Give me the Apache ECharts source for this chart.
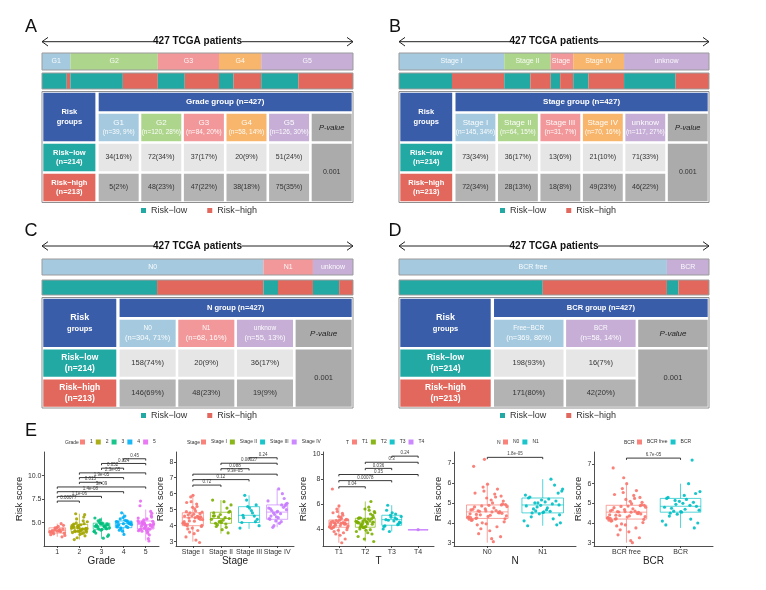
<!DOCTYPE html>
<html><head><meta charset="utf-8">
<script src="https://cdn.jsdelivr.net/npm/echarts@6/dist/echarts.min.js"></script>
<style>html,body{margin:0;padding:0;background:#fff}#main{width:766px;height:590px}</style>
</head><body><div id="main"></div>
<script>
// ================= DATA =================
const gradeCats = ['G1','G2','G3','G4','G5'];
const gradeLow  = [34,72,37,20,51];
const gradeHigh = [5,48,47,38,75];
const gradeP = '0.001';

const stageCats = ['Stage I','Stage II','Stage III','Stage IV','unknow'];
const stageLow  = [73,36,13,21,71];
const stageHigh = [72,28,18,49,46];
const stageP = '0.001';

const nCats = ['N0','N1','unknow'];
const nLow  = [158,20,36];
const nHigh = [146,48,19];
const nP = '0.001';

const bcrBarCats   = ['BCR free','BCR'];
const bcrTableCats = ['Free−BCR','BCR'];
const bcrLow  = [198,16];
const bcrHigh = [171,42];
const bcrP = '0.001';

// ---- panel E: risk score by group ----
const gradeNames = ['1','2','3','4','5'];
const gradeBox = [[3.5,3.9,4.15,4.45,4.9],[3.2,4.05,4.4,4.82,5.95],[3.3,4.3,4.65,4.95,5.55],[3.75,4.47,4.9,5.18,6.05],[3.1,4.33,4.8,5.18,6.4]];
const gradePts = [
 [4.12,3.95,4.31,4.48,3.72,4.05,4.2,3.88,4.6,4.15,3.5,4.38,4.02,4.26,3.82,4.72,4.1,3.98,4.9,4.44,3.65,4.18],
 [4.4,4.12,4.85,3.9,4.6,5.1,4.25,4.05,3.6,4.5,4.72,4.33,5.4,4.0,4.18,3.2,4.9,4.45,4.62,3.85,5.95,4.28,4.08,4.55,5.2,3.4,4.38,4.78,4.15,5.85,4.68,3.95,4.3,4.98,4.22,3.75,4.52,5.6,4.1,4.42],
 [4.65,4.35,4.9,4.1,4.55,5.2,4.78,4.28,3.9,4.7,5.05,4.45,3.35,4.62,4.88,4.2,5.5,4.58,4.32,3.7,4.95,4.75,4.4,5.3,4.05,4.68,4.5,3.55,4.85,4.6],
 [4.9,4.55,5.2,4.35,5.0,5.7,4.75,4.95,4.1,5.12,4.62,5.4,4.85,3.75,5.05,4.5,6.05,4.8,5.25,4.2,4.98,5.55,4.68,5.15,4.45],
 [4.8,4.4,5.2,4.05,4.95,5.6,4.6,4.25,3.7,5.05,4.75,5.4,4.35,6.2,4.88,4.15,3.3,5.1,4.52,4.7,6.8,4.3,5.3,4.9,3.9,4.62,5.75,4.45,5.0,3.05,4.82,5.15,4.2,7.3,4.68,4.98,5.5,4.38,4.1,6.0]
];
const gradePairs = [[0,1],[0,2],[0,3],[0,4],[1,2],[1,3],[1,4],[2,3],[2,4],[3,4]];
const gradePLabels = ['0.00077','1.1e-06','1.4e-08','3e-09','0.015','1.9e-05','2.3e-05','0.052','0.024','0.45'];

const stageNames = ['Stage I','Stage II','Stage III','Stage IV'];
const stageBox = [[3.0,4.0,4.5,4.81,5.95],[3.5,4.15,4.45,4.84,5.6],[3.8,4.2,4.65,5.19,5.9],[3.9,4.4,4.85,5.3,6.3]];
const stagePts = [
 [4.5,4.1,4.75,3.85,4.6,5.2,4.3,4.02,3.5,4.88,4.45,5.5,4.2,3.1,4.68,4.55,5.9,4.12,3.7,4.8,4.38,5.05,4.0,2.95,4.62,4.25,5.35,4.48,3.95,4.72,3.3,4.55,5.8,4.15,4.92,3.8,4.4,5.15,4.06,4.58,3.6,4.85,4.28,5.45,4.52],
 [4.45,4.2,4.8,3.9,4.55,5.3,4.35,4.15,3.55,4.7,5.6,4.5,4.05,4.9,3.75,4.62,5.1,4.25,4.4,5.5,3.95,4.84,4.3,4.6,4.1],
 [4.65,4.25,5.2,3.85,4.8,5.9,4.4,5.1,4.2,4.6,5.6,4.0,4.95,4.5,5.3],
 [4.85,4.45,5.3,4.0,5.0,6.3,4.6,5.15,4.3,5.55,4.75,3.9,5.25,4.9,4.4,6.0,4.7,5.4,4.15,4.95,5.7,4.55,5.1,4.25,4.8,5.35,4.5,5.05]
];
const stagePairs = [[0,1],[0,2],[0,3],[1,2],[1,3],[2,3]];
const stagePLabels = ['0.72','0.12','9.3e-05','0.088','0.00027','0.24'];

const tNames = ['T1','T2','T3','T4'];
const tBox = [[2.9,4.14,4.45,4.72,5.9],[3.0,4.14,4.55,4.86,6.2],[3.8,4.3,4.75,5.1,5.9],[3.95,3.95,3.95,3.95,3.95]];
const tPts = [
 [4.45,4.2,4.7,3.9,4.55,5.1,4.3,4.1,3.5,4.62,4.38,5.4,4.15,2.9,4.5,4.78,5.85,4.05,3.7,4.68,4.25,4.95,4.12,3.2,4.58,4.35,5.25,4.42,3.95,4.7,7.2,4.48,5.6,4.18,4.85,3.8,4.4,5.0,4.08,4.52,3.6,4.74,4.28,5.3,4.46],
 [4.55,4.2,4.85,3.95,4.65,5.3,4.4,4.15,3.6,4.75,4.5,5.5,4.25,3.0,4.6,4.9,6.2,4.1,3.8,4.8,4.35,5.1,4.18,3.4,4.68,4.45,5.4,4.52,4.0,4.82,3.2,4.58,5.75,4.3,4.95,3.9,4.48,5.2,4.12,4.62,3.7,4.88,4.38,5.6,4.56],
 [4.75,4.35,5.1,4.0,4.9,5.9,4.55,5.3,4.25,4.8,3.8,5.0,4.65,5.5,4.4,4.95,4.2,5.2,4.7,4.5],
 [3.95]
];
const tPairs = [[0,1],[0,2],[0,3],[1,2],[1,3],[2,3]];
const tPLabels = ['0.04','0.00078','0.35','0.036','0.3','0.24'];

const nNames = ['N0','N1'];
const nBox = [[3.0,4.22,4.55,4.9,5.95],[3.85,4.5,4.9,5.25,6.2]];
const nPts = [
 [4.55,4.25,4.9,3.95,4.65,5.3,4.4,4.2,3.6,4.8,4.5,5.6,4.3,3.05,4.6,4.95,5.95,4.15,3.8,4.85,4.35,5.15,4.22,3.3,4.7,4.45,5.45,4.58,4.05,4.88,6.85,4.52,5.8,4.28,5.0,3.9,4.48,5.25,4.12,4.62,3.7,4.92,4.38,5.5,4.56,7.2,4.18,4.75,3.45,5.1,4.32,4.68,5.7,4.0,4.82,3.2,4.42,5.35,4.6,4.26],
 [4.9,4.55,5.25,4.2,5.0,5.7,4.75,4.5,3.9,5.15,4.85,6.2,4.6,4.0,5.05,5.3,5.9,4.45,4.1,5.2,4.7,5.5,4.52,3.85,4.95,4.8,5.6,4.65,4.3,5.1,4.88,5.4,4.58,5.0,4.4]
];
const nPairs = [[0,1]];
const nPLabels = ['1.8e-05'];

const bcrNames = ['BCR free','BCR'];
const bcrBox = [[3.0,4.2,4.55,4.9,5.95],[3.75,4.55,4.85,5.25,6.0]];
const bcrPts = [
 [4.55,4.22,4.88,3.9,4.62,5.25,4.38,4.18,3.55,4.78,4.48,5.55,4.28,3.0,4.58,4.92,6.0,4.12,3.75,4.84,4.32,5.1,4.2,3.25,4.68,4.42,5.4,4.56,4.02,4.86,6.8,4.5,5.75,4.26,4.98,3.85,4.46,5.2,4.1,4.6,3.65,4.9,4.36,5.45,4.54,6.3,4.15,4.72,3.4,5.05,4.3,4.66,5.65,3.95,4.8,3.1,4.4,5.3,4.58,4.24],
 [4.85,4.55,5.25,4.2,4.95,5.6,4.7,4.5,3.75,5.1,4.8,6.0,4.6,4.0,5.0,5.3,7.2,4.45,4.1,5.2,4.75,5.5,4.58,3.9,4.9,5.15,4.65,5.4,4.35,5.05]
];
const bcrPairs = [[0,1]];
const bcrPLabels = ['6.7e-05'];

// ================= STYLE / LAYOUT =================
const FONT = '"Liberation Sans", Arial, Helvetica, sans-serif';
const BLUE='#3A5DA9', TEAL='#23A9A4', RED='#E2685D', LGREY='#E6E6E6', DGREY='#B3B3B3', PGREY='#ABABAB';
const LB='#A5CADF', GRN='#ADD58C', PNK='#F2989A', ORG='#F7B66B', PUR='#C6AED6';
const LOW_NAME='Risk−low', HIGH_NAME='Risk−high';
const hue5=['#F8766D','#A3A500','#00BF7D','#00B0F6','#E76BF3'];
const hue4=['#F8766D','#7CAE00','#00BFC4','#C77CFF'];
const hue2=['#F8766D','#00BFC4'];

const option = {animation:false, backgroundColor:'#fff', grid:[], xAxis:[], yAxis:[], series:[], legend:[], graphic:[]};
const sum = a => a.reduce((s,v)=>s+v,0);
const pct = (v,t) => Math.round(v/t*100);

function addPanel(cfg){
  const tot = cfg.low.map((v,i)=>v+cfg.high[i]);
  const total = sum(tot), nL = sum(cfg.low), nH = sum(cfg.high);
  // arrow + title
  const y = cfg.arrowY, x0 = cfg.x, x1 = cfg.x + cfg.w, cx = (x0+x1)/2, hw = 44;
  const ln = {stroke:'#222', lineWidth:1, fill:null};
  option.graphic.push(
    {type:'line', shape:{x1:x0, y1:y, x2:cx-hw, y2:y}, style:ln},
    {type:'line', shape:{x1:cx+hw, y1:y, x2:x1, y2:y}, style:ln},
    {type:'polyline', shape:{points:[[x0+6,y-4.3],[x0,y],[x0+6,y+4.3]]}, style:ln},
    {type:'polyline', shape:{points:[[x1-6,y-4.3],[x1,y],[x1-6,y+4.3]]}, style:ln},
    {type:'text', x:cx, y:y, style:{text: total + ' TCGA patients', fontSize:10, fontWeight:'bold', fontFamily:FONT, fill:'#111', align:'center', verticalAlign:'middle'}}
  );
  // group bar
  let gi = option.grid.length;
  option.grid.push({left:cfg.x, top:cfg.barTop, width:cfg.w, height:cfg.barH, show:true, borderColor:'#9b9b9b', borderWidth:1, backgroundColor:'transparent', z:10});
  option.xAxis.push({type:'value', gridIndex:gi, min:0, max:total, show:false});
  option.yAxis.push({type:'category', gridIndex:gi, data:['group'], show:false});
  cfg.barLabels.forEach((c,j)=>{
    option.series.push({type:'bar', xAxisIndex:gi, yAxisIndex:gi, stack:'grp'+gi, barWidth:'100%', data:[tot[j]], silent:true,
      itemStyle:{color:cfg.colors[j]},
      label:{show:true, position:'inside', formatter:c, color:'rgba(255,255,255,0.92)', fontSize:7, fontFamily:FONT,
             width:Math.max(8, tot[j]/total*cfg.w - 1), overflow:'truncate', ellipsis:''}});
  });
  // risk bar
  gi = option.grid.length;
  option.grid.push({left:cfg.x, top:cfg.riskTop, width:cfg.w, height:cfg.riskH, show:true, borderColor:'#9b9b9b', borderWidth:1, backgroundColor:'transparent', z:10});
  option.xAxis.push({type:'value', gridIndex:gi, min:0, max:total, show:false});
  option.yAxis.push({type:'category', gridIndex:gi, data:['risk'], show:false});
  cfg.low.forEach((v,j)=>{
    [[v,LOW_NAME,TEAL],[cfg.high[j],HIGH_NAME,RED]].forEach(([val,nm,col])=>{
      option.series.push({type:'bar', name:nm, xAxisIndex:gi, yAxisIndex:gi, stack:'risk'+gi, barWidth:'100%', data:[val], silent:true, itemStyle:{color:col}});
    });
  });
  option.legend.push({data:[LOW_NAME,HIGH_NAME], left:cfg.legendLeft, top:cfg.legendTop, padding:0, icon:'rect', itemWidth:5, itemHeight:5, itemGap:20, selectedMode:false,
    textStyle:{fontSize:9, color:'#333', fontFamily:FONT}});
  // table
  gi = option.grid.length;
  const n = cfg.cats.length, L = 1.3, W = L + n + 1, R = [0,0.7,1.7,2.7,3.7];
  option.grid.push({left:cfg.x, top:cfg.tableTop, width:cfg.w, height:cfg.tableH, show:true, borderColor:'#8f8f8f', borderWidth:1, backgroundColor:'transparent', z:10});
  option.xAxis.push({type:'value', gridIndex:gi, min:0, max:W, show:false});
  option.yAxis.push({type:'value', gridIndex:gi, min:0, max:R[4], inverse:true, show:false});
  const big = cfg.big;
  const wt = (fs, fill, bold, italic) => ({fontSize:fs, fill:fill, fontWeight:bold?'bold':'normal', fontStyle:italic?'italic':'normal', fontFamily:FONT, lineHeight:fs*1.3});
  const cells = [];
  cells.push({x0:0,x1:L,y0:0,y1:R[2],fill:BLUE,insR:2, text:'{a|Risk}\n{b|groups}', rich:{a:wt(big?9:7.5,'#fff',true), b:wt(7.5,'#fff',true)}});
  cells.push({x0:L,x1:W,y0:0,y1:R[1],fill:BLUE, text:'{a|'+cfg.title+' (n='+total+')}', rich:{a:wt(big?7.5:8,'#fff',true)}});
  cfg.cats.forEach((c,j)=>{
    cells.push({x0:L+j,x1:L+j+1,y0:R[1],y1:R[2],fill:cfg.colors[j], text:'{a|'+c+'}\n{b|(n='+tot[j]+', '+pct(tot[j],total)+'%)}',
      rich:{a:wt(big?6.5:8,'rgba(255,255,255,0.95)',false), b:wt(big?7.5:6.5,'rgba(255,255,255,0.95)',false)}});
  });
  cells.push({x0:L+n,x1:W,y0:R[1],y1:R[2],fill:PGREY, text:'{a|P}{b|-value}', rich:{a:wt(big?8:7.5,'#222',false,true), b:wt(big?8:7.5,'#222',false,true)}});
  cells.push({x0:0,x1:L,y0:R[2],y1:R[3],fill:TEAL,insR:2, text:'{a|'+LOW_NAME+'}\n{a|(n='+nL+')}', rich:{a:wt(big?8.5:7.5,'#fff',true)}});
  cells.push({x0:0,x1:L,y0:R[3],y1:R[4],fill:RED,insR:2, text:'{a|'+HIGH_NAME+'}\n{a|(n='+nH+')}', rich:{a:wt(big?8.5:7.5,'#fff',true)}});
  cfg.low.forEach((v,j)=>{
    cells.push({x0:L+j,x1:L+j+1,y0:R[2],y1:R[3],fill:LGREY, text:'{a|'+v+'('+pct(v,nL)+'%)}', rich:{a:wt(big?7.5:7,'#333',false)}});
    cells.push({x0:L+j,x1:L+j+1,y0:R[3],y1:R[4],fill:DGREY, text:'{a|'+cfg.high[j]+'('+pct(cfg.high[j],nH)+'%)}', rich:{a:wt(big?7.5:7,'#333',false)}});
  });
  cells.push({x0:L+n,x1:W,y0:R[2],y1:R[4],fill:PGREY, text:'{a|'+cfg.p+'}', rich:{a:wt(big?7.5:7,'#333',false)}});
  option.series.push({type:'custom', xAxisIndex:gi, yAxisIndex:gi, silent:true, encode:{x:[0,2], y:[1,3]},
    data: cells.map(c=>[c.x0,c.y0,c.x1,c.y1]),
    renderItem:(params, api)=>{
      const c = cells[params.dataIndex];
      const p0 = api.coord([api.value(0), api.value(1)]), p1 = api.coord([api.value(2), api.value(3)]);
      const ins = 1.3, x = p0[0]+ins, yy = p0[1]+ins, w = p1[0]-p0[0]-ins-(c.insR||ins), h = p1[1]-p0[1]-2*ins;
      return {type:'group', children:[
        {type:'rect', shape:{x:x, y:yy, width:w, height:h}, style:{fill:c.fill}},
        {type:'text', x:x+w/2, y:yy+h/2, style:{text:c.text, rich:c.rich, align:'center', verticalAlign:'middle', fontFamily:FONT, fontSize:7, fill:'#333'}}
      ]};
    }});
}

addPanel({x:42, w:311, arrowY:41.7, barTop:53, barH:17, riskTop:73, riskH:16, tableTop:91.5, tableH:111, legendLeft:141, legendTop:206,
  cats:gradeCats, barLabels:gradeCats, low:gradeLow, high:gradeHigh, p:gradeP, title:'Grade group', colors:[LB,GRN,PNK,ORG,PUR], big:false});
addPanel({x:399, w:310, arrowY:41.7, barTop:53, barH:17, riskTop:73, riskH:16, tableTop:91.5, tableH:111, legendLeft:500, legendTop:206,
  cats:stageCats, barLabels:stageCats, low:stageLow, high:stageHigh, p:stageP, title:'Stage group', colors:[LB,GRN,PNK,ORG,PUR], big:false});
addPanel({x:42, w:311, arrowY:246, barTop:259, barH:16, riskTop:280, riskH:15, tableTop:297.5, tableH:110.5, legendLeft:141, legendTop:411,
  cats:nCats, barLabels:nCats, low:nLow, high:nHigh, p:nP, title:'N group', colors:[LB,PNK,PUR], big:true});
addPanel({x:399, w:310, arrowY:246, barTop:259, barH:16, riskTop:280, riskH:15, tableTop:297.5, tableH:110.5, legendLeft:500, legendTop:411,
  cats:bcrTableCats, barLabels:bcrBarCats, low:bcrLow, high:bcrHigh, p:bcrP, title:'BCR group', colors:[LB,PUR], big:true});

// panel letters
[['A',31,27],['B',395,27],['C',31,231.5],['D',395,231.5],['E',31,431.5]].forEach(([t,x,y])=>{
  option.graphic.push({type:'text', x:x, y:y, style:{text:t, fontSize:18, fontFamily:FONT, fill:'#111', align:'center', verticalAlign:'middle'}});
});

// ================= PANEL E =================
const jit = (i,g) => ((((i+1)*0.6180339887 + g*0.29) % 1) - 0.5) * 0.72;
const ePlots = [
 {name:'Grade', cats:gradeNames, colors:hue5, pts:gradePts, box:gradeBox, pairs:gradePairs, labels:gradePLabels, left:44, width:115, min:2.52, max:12.52, ticks:[5,7.5,10], dec:1, nameGap:17, legLeft:80, legTitleX:65, base:7.3, step:0.5},
 {name:'Stage', cats:stageNames, colors:hue4, pts:stagePts, box:stageBox, pairs:stagePairs, labels:stagePLabels, left:176, width:118, min:2.73, max:8.61, ticks:[3,4,5,6,7,8], dec:0, nameGap:9, legLeft:201, legTitleX:187, base:6.54, step:0.342},
 {name:'T', cats:tNames, colors:hue4, pts:tPts, box:tBox, pairs:tPairs, labels:tPLabels, left:323, width:111, min:2.64, max:10.16, ticks:[4,6,8,10], dec:0, nameGap:12, legLeft:352, legTitleX:346, base:7.38, step:0.49},
 {name:'N', cats:nNames, colors:hue2, pts:nPts, box:nBox, pairs:nPairs, labels:nPLabels, left:454, width:122, min:2.83, max:7.57, ticks:[3,4,5,6,7], dec:0, nameGap:7, legLeft:503, legTitleX:497, base:7.3, step:0.3},
 {name:'BCR', cats:bcrNames, colors:hue2, pts:bcrPts, box:bcrBox, pairs:bcrPairs, labels:bcrPLabels, left:594, width:119, min:2.83, max:7.61, ticks:[3,4,5,6,7], dec:0, nameGap:7, legLeft:637, legTitleX:624, base:7.3, step:0.3}
];
ePlots.forEach(p=>{
  const gi = option.grid.length, n = p.cats.length;
  const idx = p.cats.map((_,i)=>i);
  const axl = {show:true, onZero:false, lineStyle:{color:'#222', width:0.8}};
  option.grid.push({left:p.left, top:452, width:p.width, height:94});
  option.xAxis.push({type:'value', gridIndex:gi, min:-0.6, max:n-0.4, name:p.name, nameLocation:'middle', nameGap:7.5,
    nameTextStyle:{fontSize:10, color:'#222', fontFamily:FONT},
    axisLine:axl, axisTick:{show:true, length:2, customValues:idx, lineStyle:{color:'#222', width:0.8}},
    axisLabel:{customValues:idx, formatter:v=>p.cats[Math.round(v)]||'', fontSize:7, color:'#333', margin:2.5, fontFamily:FONT}, splitLine:{show:false}});
  option.yAxis.push({type:'value', gridIndex:gi, min:p.min, max:p.max, name:'Risk score', nameLocation:'middle', nameGap:p.nameGap,
    nameTextStyle:{fontSize:9.5, color:'#222', fontFamily:FONT},
    axisLine:axl, axisTick:{show:true, length:2, customValues:p.ticks, lineStyle:{color:'#222', width:0.8}},
    axisLabel:{customValues:p.ticks, formatter:v=>p.dec?Number(v).toFixed(1):String(v), fontSize:7, color:'#333', margin:2.5, fontFamily:FONT}, splitLine:{show:false}});
  p.pts.forEach((vals,g)=>{
    option.series.push({type:'scatter', name:p.cats[g], xAxisIndex:gi, yAxisIndex:gi, symbolSize:3.2, silent:true, z:2,
      itemStyle:{color:p.colors[g], opacity:0.9}, data:vals.map((v,i)=>[g + (vals.length>1?jit(i,g):0), v])});
  });
  option.series.push({type:'custom', xAxisIndex:gi, yAxisIndex:gi, silent:true, z:3, encode:{x:0, y:[1,5]},
    data:p.box.map((b,i)=>[i].concat(b)),
    renderItem:(params, api)=>{
      const i = api.value(0), c = p.colors[params.dataIndex], hw = 0.375;
      const a = api.coord([i-hw, api.value(4)]), b = api.coord([i+hw, api.value(2)]);
      const m1 = api.coord([i-hw, api.value(3)]), m2 = api.coord([i+hw, api.value(3)]);
      const w1 = api.coord([i, api.value(1)]), w2 = api.coord([i, api.value(2)]);
      const w3 = api.coord([i, api.value(4)]), w4 = api.coord([i, api.value(5)]);
      const st = {stroke:c, lineWidth:0.9, opacity:0.75, fill:'none'};
      return {type:'group', children:[
        {type:'rect', shape:{x:a[0], y:a[1], width:b[0]-a[0], height:Math.max(0.5,b[1]-a[1])}, style:st},
        {type:'line', shape:{x1:m1[0], y1:m1[1], x2:m2[0], y2:m2[1]}, style:st},
        {type:'line', shape:{x1:w1[0], y1:w1[1], x2:w2[0], y2:w2[1]}, style:st},
        {type:'line', shape:{x1:w3[0], y1:w3[1], x2:w4[0], y2:w4[1]}, style:st}
      ]};
    }});
  option.series.push({type:'custom', xAxisIndex:gi, yAxisIndex:gi, silent:true, z:4, encode:{x:[0,1], y:2},
    data:p.pairs.map((pr,k)=>[pr[0], pr[1], p.base + k*p.step]),
    renderItem:(params, api)=>{
      const a = api.coord([api.value(0), api.value(2)]), b = api.coord([api.value(1), api.value(2)]);
      return {type:'group', children:[
        {type:'polyline', shape:{points:[[a[0],a[1]+1.8],[a[0],a[1]],[b[0],b[1]],[b[0],b[1]+1.8]]}, style:{stroke:'#222', lineWidth:0.9, fill:null}},
        {type:'text', x:(a[0]+b[0])/2, y:a[1]-0.6, style:{text:p.labels[params.dataIndex], fontSize:4.5, fill:'#444', align:'center', verticalAlign:'bottom', fontFamily:FONT}}
      ]};
    }});
  option.legend.push({data:p.cats, left:p.legLeft, top:439.5, padding:0, icon:'rect', itemWidth:5, itemHeight:5, itemGap:3, selectedMode:false,
    textStyle:{fontSize:5, color:'#333', fontFamily:FONT}});
  option.graphic.push({type:'text', x:p.legTitleX, y:442.5, style:{text:p.name, fontSize:5, fill:'#333', fontFamily:FONT, verticalAlign:'middle'}});
});

const chart = echarts.init(document.getElementById('main'));
chart.setOption(option);
</script></body></html>
